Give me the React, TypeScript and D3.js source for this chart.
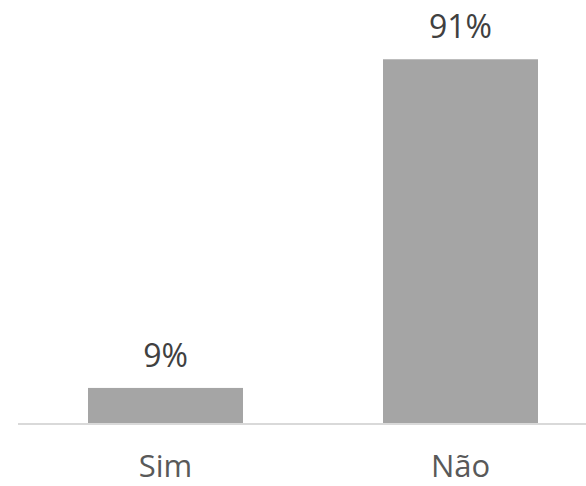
import React from "react";
import * as d3 from "d3";

const categories: string[] = ["Sim", "Não"];
const values: number[] = [9, 91];
const valueLabels: string[] = ["9%", "91%"];

const W = 586;
const H = 486;
const FONT = "'Open Sans', 'Noto Sans', sans-serif";

export default function App() {
  const x = d3
    .scaleBand<string>()
    .domain(categories)
    .range([18, 608])
    .paddingInner(0.4746)
    .paddingOuter(0.2373);
  const y = d3.scaleLinear().domain([0, 100]).range([424, 23.2]);
  const baseY = y(0);

  return (
    <svg
      width={W}
      height={H}
      style={{ position: "absolute", left: 0, top: 0, display: "block" }}
    >
      <rect width={W} height={H} fill="#ffffff" />
      {categories.map((c, i) => {
        const bx = x(c) as number;
        const by = y(values[i]);
        return (
          <g key={c}>
            <rect
              x={bx}
              y={by}
              width={x.bandwidth()}
              height={baseY - by}
              fill="#a5a5a5"
            />
            <text
              x={bx + x.bandwidth() / 2}
              y={by - 21}
              textAnchor="middle"
              fontFamily={FONT}
              fontSize={32}
              fill="#404040"
            >
              {valueLabels[i]}
            </text>
            <text
              x={bx + x.bandwidth() / 2}
              y={477}
              textAnchor="middle"
              fontFamily={FONT}
              fontSize={31}
              fill="#595959"
            >
              {c}
            </text>
          </g>
        );
      })}
      <line x1={18} x2={W} y1={baseY} y2={baseY} stroke="#d9d9d9" strokeWidth={1.8} />
    </svg>
  );
}
